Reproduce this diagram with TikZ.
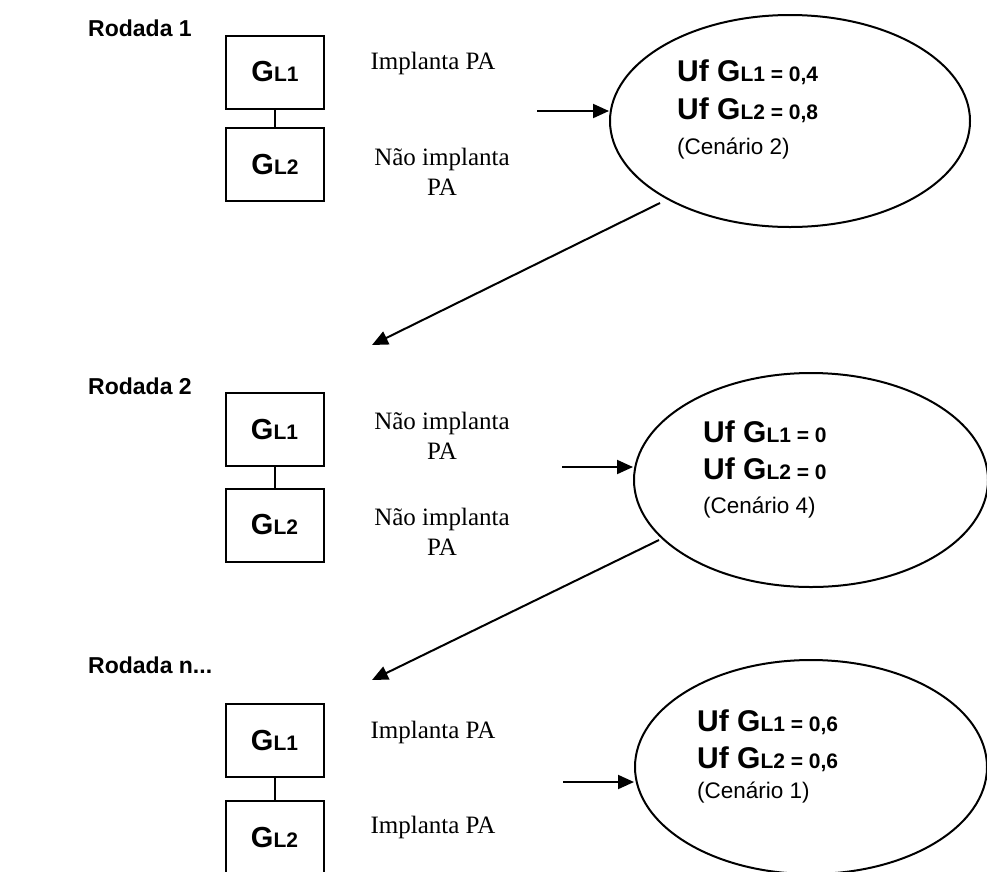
\documentclass[tikz,border=0pt]{standalone}
\usepackage{fontspec}
\setmainfont{Liberation Serif}
\newfontfamily\arialfont{Liberation Sans}
\usetikzlibrary{shapes.geometric,arrows.meta}

% sizes of the mixed-size "G_{L1}" labels
\newcommand\boxbig{\fontsize{29}{29}\selectfont}
\newcommand\boxsmall{\fontsize{21}{21}\selectfont}
\newcommand\ufbig{\fontsize{30}{30}\selectfont}
\newcommand\ufsmall{\fontsize{21}{21}\selectfont}
\newcommand\GLab[1]{{\boxbig G}{\boxsmall L#1}}
\newcommand\UfLine[2]{{\ufbig Uf G}{\ufsmall L#1 = #2}}

\tikzset{
  gbox/.style={draw, line width=2pt, minimum width=98pt, minimum height=73pt,
    inner sep=0pt, font=\arialfont\bfseries},
  round/.style={draw, ellipse, line width=2pt, inner sep=0pt},
  roundlabel/.style={font=\arialfont\bfseries\fontsize{23}{23}\selectfont, anchor=base west, inner sep=0pt},
  choice/.style={font=\fontsize{25}{30}\selectfont, align=center, inner sep=0pt},
  uf/.style={font=\arialfont\bfseries, anchor=base west, inner sep=0pt},
  scen/.style={font=\arialfont\fontsize{22.5}{22.5}\selectfont, anchor=base west, inner sep=0pt},
  arr/.style={line width=2pt, -{Triangle[length=16pt,width=14pt]}},
  link/.style={line width=2pt}
}

\begin{document}
\begin{tikzpicture}[x=1pt,y=-1pt]
\useasboundingbox (0,0) rectangle (987,871);

% ---- Rodada 1 ----
\node[roundlabel] (r1) at (88,36) {Rodada 1};
\node[gbox] (a1) at (275,72) {\GLab{1}};
\node[gbox] (a2) at (275,164.5) {\GLab{2}};
\draw[link] (a1) -- (a2);
\node[choice] (c11) at (433,63) {Implanta PA};
\node[choice] (c12) at (442,172) {Não implanta\\PA};
\node[round, minimum width=360pt, minimum height=212pt] (e1) at (790,121) {};
\node[uf] (u11) at (677,81) {\UfLine{1}{0,4}};
\node[uf] (u12) at (677,119) {\UfLine{2}{0,8}};
\node[scen] (s1) at (677,154) {(Cenário 2)};
\coordinate (in1) at (537,111);
\draw[arr] (in1) -- (in1 -| e1.west);
\coordinate (d1s) at (660,203);
\coordinate (d1e) at (372,345);
\draw[arr] (d1s) -- (d1e);

% ---- Rodada 2 ----
\node[roundlabel] (r2) at (88,394) {Rodada 2};
\node[gbox] (b1) at (274.5,429.5) {\GLab{1}};
\node[gbox] (b2) at (274.5,525) {\GLab{2}};
\draw[link] (b1) -- (b2);
\node[choice] (c21) at (442,436) {Não implanta\\PA};
\node[choice] (c22) at (442,532) {Não implanta\\PA};
\node[round, minimum width=354pt, minimum height=214pt] (e2) at (811,480) {};
\node[uf] (u21) at (703,442) {\UfLine{1}{0}};
\node[uf] (u22) at (703,479) {\UfLine{2}{0}};
\node[scen] (s2) at (703,513) {(Cenário 4)};
\coordinate (in2) at (562,467);
\draw[arr] (in2) -- (in2 -| e2.west);
\coordinate (d2s) at (659,540);
\coordinate (d2e) at (372,680);
\draw[arr] (d2s) -- (d2e);

% ---- Rodada n ----
\node[roundlabel] (r3) at (88,673) {Rodada n...};
\node[gbox] (g1) at (274.5,740.5) {\GLab{1}};
\node[gbox] (g2) at (274.5,837.5) {\GLab{2}};
\draw[link] (g1) -- (g2);
\node[choice] (c31) at (433,732) {Implanta PA};
\node[choice] (c32) at (433,827) {Implanta PA};
\node[round, minimum width=352pt, minimum height=214pt] (e3) at (811,767) {};
\node[uf] (u31) at (697,731) {\UfLine{1}{0,6}};
\node[uf] (u32) at (697,768) {\UfLine{2}{0,6}};
\node[scen] (s3) at (697,798) {(Cenário 1)};
\coordinate (in3) at (563,782);
\draw[arr] (in3) -- (in3 -| e3.west);
\end{tikzpicture}
\end{document}
